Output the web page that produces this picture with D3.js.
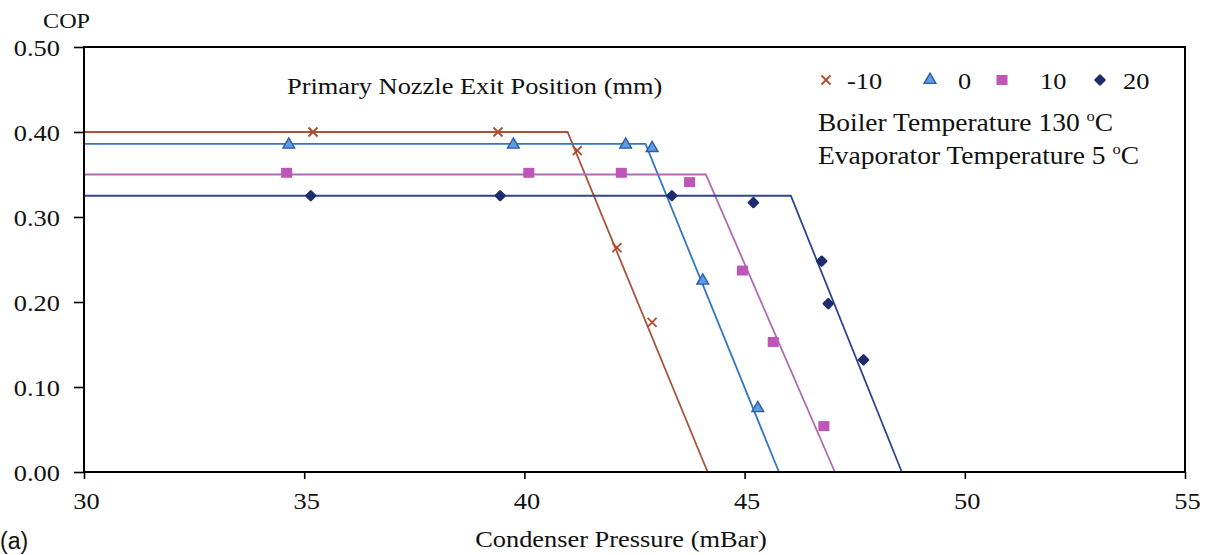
<!DOCTYPE html>
<html>
<head>
<meta charset="utf-8">
<script src="https://cdn.jsdelivr.net/npm/d3@7"></script>
<style>
  html, body { margin: 0; padding: 0; background: #fff; }
  svg { display: block; }
  text { font-family: "Liberation Serif", "DejaVu Serif", serif; fill: #111; }
</style>
</head>
<body>
<svg id="chart" width="1213" height="555"></svg>
<script>
// Primary nozzle exit positions (mm), one series each
const positions = ["-10", "0", "10", "20"];

// Measured COP vs condenser pressure (mBar)
const pressM10 = [35.2, 39.4, 41.2, 42.1, 42.9];
const copM10   = [0.400, 0.400, 0.378, 0.264, 0.176];
const press0   = [34.65, 39.75, 42.3, 42.9, 44.05, 45.3];
const cop0     = [0.385, 0.385, 0.385, 0.381, 0.225, 0.075];
const press10  = [34.6, 40.1, 42.2, 43.75, 44.95, 45.65, 46.8];
const cop10    = [0.352, 0.352, 0.352, 0.341, 0.237, 0.153, 0.054];
const press20  = [35.15, 39.45, 43.35, 45.2, 46.75, 46.9, 47.7];
const cop20    = [0.325, 0.325, 0.325, 0.317, 0.248, 0.198, 0.132];

// Fitted trend: flat up to the critical pressure, then linear fall to zero
const fitPressM10 = [30, 40.98, 44.16];
const fitCopM10   = [0.400, 0.400, 0.0];
const fitPress0   = [30, 42.75, 45.78];
const fitCop0     = [0.386, 0.386, 0.0];
const fitPress10  = [30, 44.12, 47.05];
const fitCop10    = [0.350, 0.350, 0.0];
const fitPress20  = [30, 46.05, 48.57];
const fitCop20    = [0.325, 0.325, 0.0];

// Axis ticks
const xTicks = [30, 35, 40, 45, 50, 55];
const yTicks = [0.0, 0.1, 0.2, 0.3, 0.4, 0.5];

const series = [
  { name: positions[0], px: pressM10, py: copM10, fx: fitPressM10, fy: fitCopM10, line: "#a85438", marker: "cross",    fill: "#b04a2c", stroke: "#b04a2c" },
  { name: positions[1], px: press0,   py: cop0,   fx: fitPress0,   fy: fitCop0,   line: "#3577c0", marker: "triangle", fill: "#5f9be0", stroke: "#2a5fa8" },
  { name: positions[2], px: press10,  py: cop10,  fx: fitPress10,  fy: fitCop10,  line: "#b06ab4", marker: "square",   fill: "#bf55b8", stroke: "#bf55b8" },
  { name: positions[3], px: press20,  py: cop20,  fx: fitPress20,  fy: fitCop20,  line: "#2f4592", marker: "diamond",  fill: "#1e2c6e", stroke: "#1e2c6e" }
];

const svg = d3.select("#chart");
const m = { left: 84, right: 1185, top: 47, bottom: 472 };
const SX = 1.1; // the serif lettering is set slightly wide

const x = d3.scaleLinear().domain([30, 55]).range([m.left, m.right]);
const y = d3.scaleLinear().domain([0, 0.5]).range([m.bottom, m.top]);

// Text helper: places a widened serif label
function label(px, py, str, size, anchor) {
  return svg.append("text")
    .attr("transform", `translate(${px},${py}) scale(${SX},1)`)
    .attr("font-size", size)
    .attr("text-anchor", anchor || "start")
    .text(str);
}

// Fitted lines
const lineGen = d3.line().x(d => x(d[0])).y(d => y(d[1]));
series.forEach(s => {
  svg.append("path")
    .attr("d", lineGen(d3.zip(s.fx, s.fy)))
    .attr("fill", "none")
    .attr("stroke", s.line)
    .attr("stroke-width", 1.8);
});

// Marker drawing
function drawMarker(g, type, cx, cy, s) {
  if (type === "cross") {
    const r = 4.5;
    g.append("path")
      .attr("d", `M${cx - r},${cy - r}L${cx + r},${cy + r}M${cx - r},${cy + r}L${cx + r},${cy - r}`)
      .attr("stroke", s.stroke).attr("stroke-width", 1.8).attr("fill", "none");
  } else if (type === "triangle") {
    g.append("path")
      .attr("d", d3.symbol(d3.symbolTriangle, 60)())
      .attr("transform", `translate(${cx},${cy})`)
      .attr("fill", s.fill).attr("stroke", s.stroke).attr("stroke-width", 1.4);
  } else if (type === "square") {
    g.append("rect")
      .attr("x", cx - 5.5).attr("y", cy - 5).attr("width", 11).attr("height", 10)
      .attr("fill", s.fill);
  } else if (type === "diamond") {
    // rotated square, slightly rounded like the printed glyph
    g.append("rect")
      .attr("x", -4.4).attr("y", -4.4).attr("width", 8.8).attr("height", 8.8)
      .attr("rx", 1.2)
      .attr("transform", `translate(${cx},${cy}) rotate(45)`)
      .attr("fill", s.fill);
  }
}

// Data markers
series.forEach(s => {
  const g = svg.append("g");
  d3.zip(s.px, s.py).forEach(([p, c]) => drawMarker(g, s.marker, x(p), y(c), s));
});

// Plot frame
svg.append("rect")
  .attr("x", m.left).attr("y", m.top)
  .attr("width", m.right - m.left).attr("height", m.bottom - m.top)
  .attr("fill", "none").attr("stroke", "#000").attr("stroke-width", 2);

// Axes
const xAxis = svg.append("g")
  .attr("transform", `translate(0,${m.bottom})`)
  .call(d3.axisBottom(x).tickValues(xTicks).tickSize(7).tickFormat(d3.format("d")));
const yAxis = svg.append("g")
  .attr("transform", `translate(${m.left},0)`)
  .call(d3.axisLeft(y).tickValues(yTicks).tickSize(10).tickFormat(d3.format(".2f")));
[xAxis, yAxis].forEach(a => {
  a.select(".domain").remove();
  a.selectAll(".tick line").attr("stroke", "#000").attr("stroke-width", 1.6);
  a.selectAll(".tick text")
    .attr("font-family", "Liberation Serif, serif")
    .attr("font-size", 24).attr("fill", "#111")
    .attr("x", null).attr("y", null).attr("dy", null);
});
xAxis.selectAll(".tick text")
  .attr("text-anchor", "middle")
  .attr("transform", `translate(2,37) scale(${SX},1)`);
yAxis.selectAll(".tick text")
  .attr("text-anchor", "end")
  .attr("transform", `translate(-24,8) scale(${SX},1)`);

// Axis titles
label(43, 28, "COP", 22);
label(621, 547, "Condenser Pressure (mBar)", 24, "middle");
svg.append("text").attr("x", 0).attr("y", 549)
  .style("font-family", "Liberation Sans, Arial, sans-serif").attr("font-size", 23).text("(a)");

// Series title
label(287, 94, "Primary Nozzle Exit Position (mm)", 24);

// Legend row
const legendItems = [
  { mx: 826, tx: 847 },
  { mx: 930, tx: 958 },
  { mx: 1002, tx: 1040 },
  { mx: 1100, tx: 1123 }
];
series.forEach((s, i) => {
  const li = legendItems[i];
  const g = svg.append("g");
  drawMarker(g, s.marker, li.mx, 80, s);
  label(li.tx, 89, s.name, 24);
});

// Operating conditions
function condition(py, main) {
  const t = label(818, py, "", 25);
  t.append("tspan").text(main);
  t.append("tspan").attr("font-size", 15).attr("dy", -10).text("o");
  t.append("tspan").attr("dy", 10).text("C");
}
condition(131, "Boiler Temperature 130 ");
condition(164, "Evaporator Temperature 5 ");
</script>
</body>
</html>
